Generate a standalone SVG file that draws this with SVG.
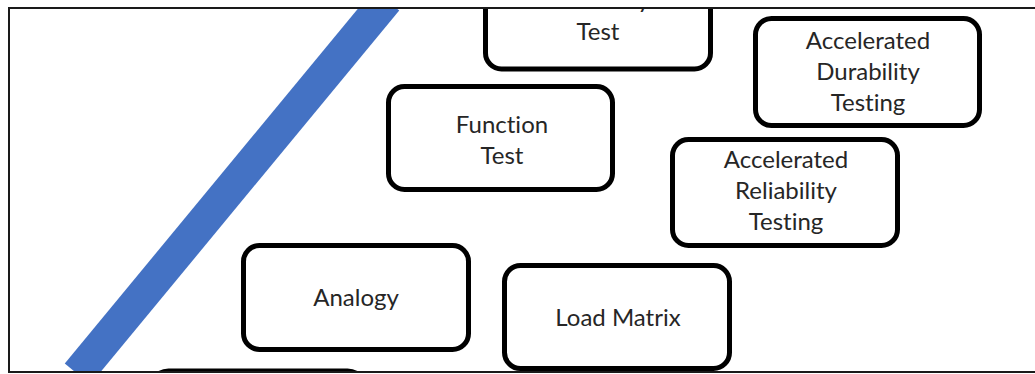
<svg xmlns="http://www.w3.org/2000/svg" width="1035" height="374" viewBox="0 0 1035 374">
  <style>
    .box { fill: #ffffff; stroke: #000000; stroke-width: 5; }
    .lbl { font-family: Lato, "Open Sans", sans-serif; font-size: 24px; fill: #262626; text-anchor: middle; font-variant-ligatures: none; }
    .frame { fill: none; stroke: #1a1a1a; stroke-width: 2; }
  </style>
  <defs>
    <clipPath id="inner">
      <rect x="10" y="9" width="1030" height="362"/>
    </clipPath>
  </defs>
  <rect x="0" y="0" width="1035" height="374" fill="#ffffff"/>
  <g clip-path="url(#inner)">
    <g id="connectors">
      <line x1="386.5" y1="0" x2="77.5" y2="374" stroke="#4472c4" stroke-width="33"/>
    </g>
    <g id="node-durability-test">
      <rect class="box" x="485.5" y="-40" width="225" height="109" rx="16"/>
      <text class="lbl" x="598" y="8">Durability</text>
      <text class="lbl" x="598" y="40">Test</text>
    </g>
    <g id="node-accelerated-durability">
      <rect class="box" x="755.5" y="18.5" width="224" height="107" rx="16"/>
      <text class="lbl" x="868" y="49">Accelerated</text>
      <text class="lbl" x="868" y="80">Durability</text>
      <text class="lbl" x="868" y="111">Testing</text>
    </g>
    <g id="node-function-test">
      <rect class="box" x="388.5" y="86.5" width="224" height="103" rx="16"/>
      <text class="lbl" x="502" y="133">Function</text>
      <text class="lbl" x="502" y="164">Test</text>
    </g>
    <g id="node-accelerated-reliability">
      <rect class="box" x="672.5" y="139.5" width="225" height="106" rx="16"/>
      <text class="lbl" x="786" y="168">Accelerated</text>
      <text class="lbl" x="786" y="199">Reliability</text>
      <text class="lbl" x="786" y="230">Testing</text>
    </g>
    <g id="node-analogy">
      <rect class="box" x="243.5" y="245.5" width="225" height="104" rx="16"/>
      <text class="lbl" x="356" y="306">Analogy</text>
    </g>
    <g id="node-load-matrix">
      <rect class="box" x="504.5" y="265.5" width="225" height="103" rx="16"/>
      <text class="lbl" x="618" y="326">Load Matrix</text>
    </g>
    <g id="node-lower">
      <rect class="box" x="150.5" y="371" width="215" height="100" rx="18"/>
    </g>
  </g>
  <rect class="frame" x="9" y="8" width="1040" height="364"/>
</svg>
